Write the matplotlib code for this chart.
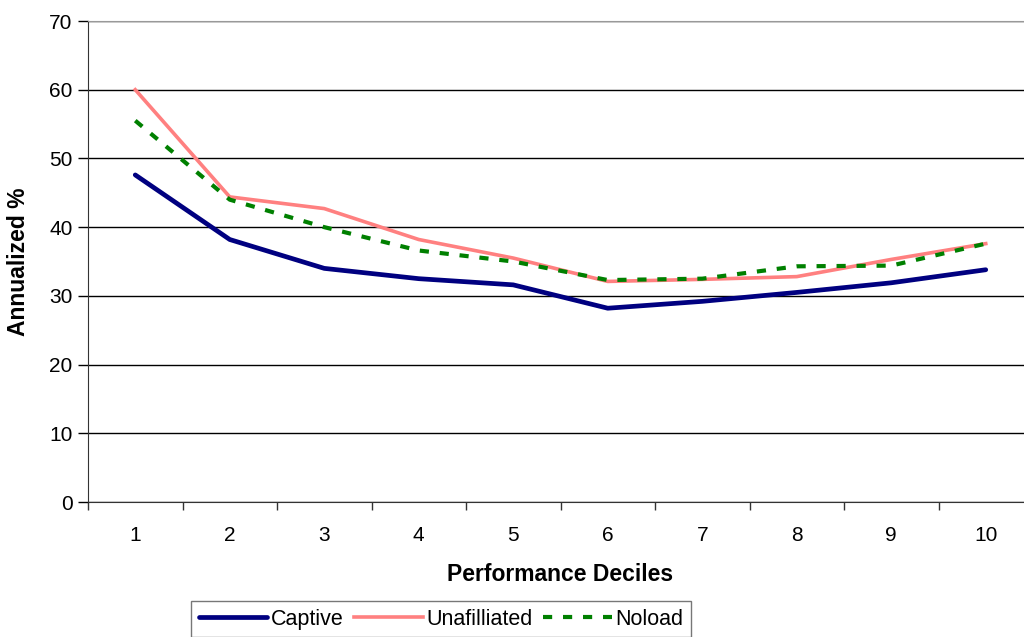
import matplotlib.pyplot as plt
from matplotlib.ticker import FixedLocator

plt.rcParams['font.family'] = ['Liberation Sans', 'DejaVu Sans']

deciles = [1, 2, 3, 4, 5, 6, 7, 8, 9, 10]
captive = [47.6, 38.2, 34.0, 32.5, 31.6, 28.2, 29.2, 30.5, 31.9, 33.8]
unafilliated = [60.0, 44.4, 42.7, 38.2, 35.5, 32.1, 32.4, 32.8, 35.3, 37.6]
noload = [55.5, 44.0, 40.0, 36.6, 35.0, 32.3, 32.5, 34.3, 34.4, 37.6]

fig = plt.figure(figsize=(10.24, 6.37), dpi=100)
ax = fig.add_axes([88 / 1024, 1 - 502 / 637, 945 / 1024, 481 / 637])

ax.plot(deciles, captive, color='#000080', lw=3.4, label='Captive', solid_capstyle='round')
ax.plot(deciles, unafilliated, color='#FF8080', lw=2.6, label='Unafilliated')
ax.plot(deciles, noload, color='#008000', lw=3, ls=(0, (2.2, 2.6)), label='Noload')

ax.set_xlim(0.5, 10.5)
ax.set_ylim(0, 70)
ax.set_yticks(range(0, 71, 10))
ax.set_xticks(deciles)
ax.xaxis.set_minor_locator(FixedLocator([i + 0.5 for i in range(0, 10)]))
ax.tick_params(axis='x', which='major', length=0, pad=17, labelsize=15)
ax.tick_params(axis='x', which='minor', length=6, width=1, direction='out', color='#333333')
ax.tick_params(axis='y', length=7, width=1, direction='out', labelsize=15, pad=4)
ax.yaxis.grid(True, color='black', lw=1)
ax.set_axisbelow(True)

for s in ['top', 'right']:
    ax.spines[s].set_color('#999999')
ax.spines['left'].set_color('#333333')
ax.spines['bottom'].set_color('#333333')

ax.set_xlabel('Performance Deciles', fontsize=16.5, fontweight='bold', labelpad=13)
ax.set_ylabel('Annualized %', fontsize=16.5, fontweight='bold', labelpad=14)

leg = ax.legend(loc='upper left', bbox_to_anchor=(191 / 1024, 1 - 601 / 637),
                bbox_transform=fig.transFigure, ncol=3, fontsize=15.5,
                frameon=True, fancybox=False, handlelength=3.2, handletextpad=0.15,
                columnspacing=0.5, borderpad=0.35, borderaxespad=0)
leg.get_frame().set_edgecolor('#555555')
leg.get_frame().set_linewidth(1)

fig.savefig('out.png', dpi=100)
